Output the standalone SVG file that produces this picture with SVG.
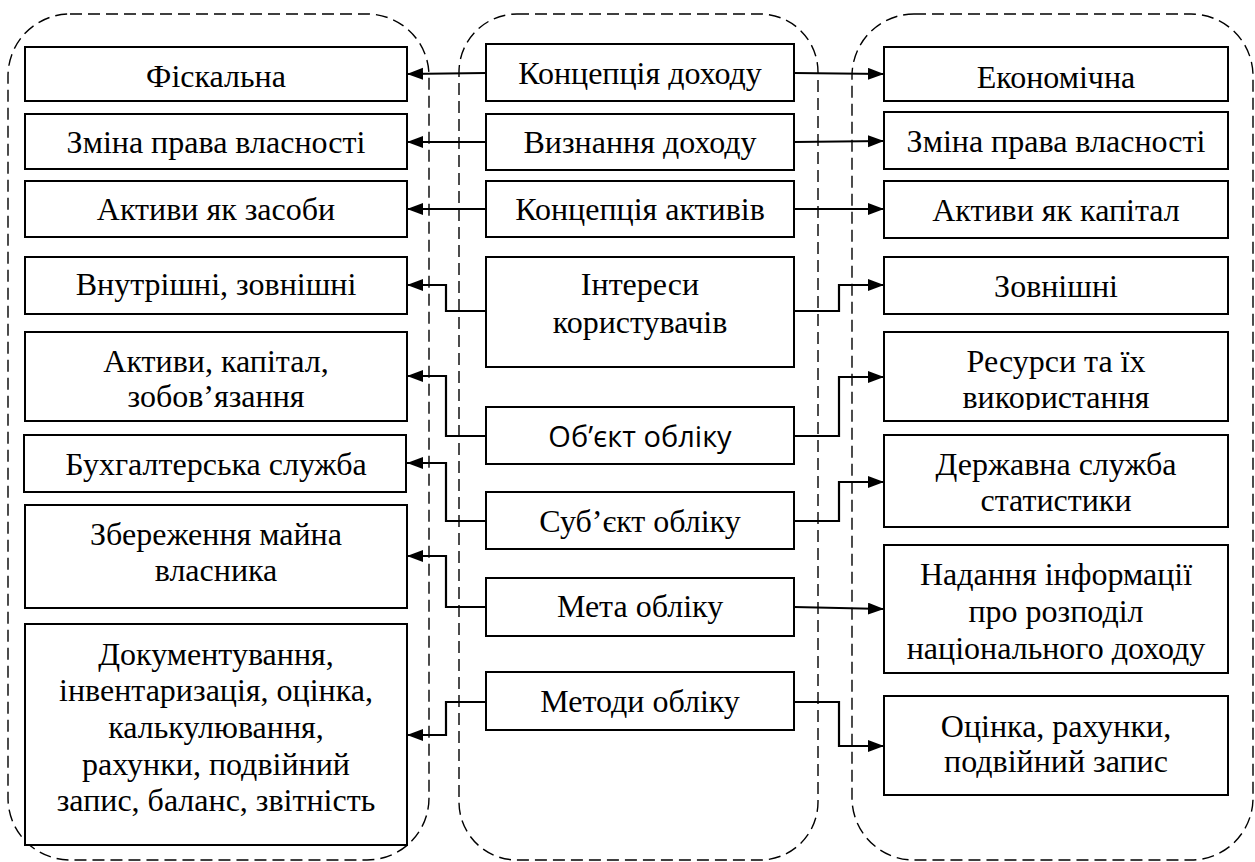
<svg xmlns="http://www.w3.org/2000/svg" width="1255" height="862" viewBox="0 0 1255 862">
  <style>
    .zone { fill: none; stroke: #000; stroke-width: 1.4; stroke-dasharray: 12 6; }
    .box { fill: #fff; stroke: #000; stroke-width: 2; }
    .t { font-family: "Liberation Serif", "DejaVu Serif", serif; font-size: 32px; fill: #000; text-anchor: middle; }
    .ts { font-family: "Open Sans", "Liberation Sans", sans-serif; font-size: 29px; fill: #000; text-anchor: middle; }
    .link { fill: none; stroke: #000; stroke-width: 2.2; marker-end: url(#arrow); }
  </style>
  <defs>
    <marker id="arrow" markerUnits="userSpaceOnUse" markerWidth="17" markerHeight="13" refX="16" refY="6" orient="auto">
      <path d="M0,0 L16,6 L0,12 z" fill="#000"/>
    </marker>
    <clipPath id="clipRes">
      <rect x="884" y="332" width="344" height="78"/>
    </clipPath>
  </defs>

  <!-- dashed column frames -->
  <g id="zones">
    <rect class="zone" x="8" y="14" width="421" height="846" rx="62" ry="62"/>
    <rect class="zone" x="459" y="14" width="359" height="846" rx="58" ry="58"/>
    <rect class="zone" x="852" y="14" width="401" height="846" rx="62" ry="62"/>
  </g>

  <!-- connectors -->
  <g id="connectors">
    <path class="link" d="M486,73 L407,74"/>
    <path class="link" d="M486,142 L407,142"/>
    <path class="link" d="M486,209 L407,209"/>
    <path class="link" d="M486,311 L446,311 L446,285 L407,285"/>
    <path class="link" d="M486,436 L446,436 L446,376 L407,376"/>
    <path class="link" d="M486,521 L446,521 L446,463 L407,463"/>
    <path class="link" d="M486,607 L446,607 L446,556 L407,556"/>
    <path class="link" d="M486,702 L446,702 L446,735 L407,735"/>

    <path class="link" d="M794,73 L884,74"/>
    <path class="link" d="M794,142 L884,141"/>
    <path class="link" d="M794,209 L884,209"/>
    <path class="link" d="M794,311 L839,311 L839,285 L884,285"/>
    <path class="link" d="M794,436 L839,436 L839,377 L884,377"/>
    <path class="link" d="M794,521 L839,521 L839,482 L884,482"/>
    <path class="link" d="M794,607 L839,608 L884,609"/>
    <path class="link" d="M794,702 L839,702 L839,746 L884,746"/>
  </g>

  <!-- left column -->
  <g id="fiscal"><rect class="box" x="25" y="47" width="382" height="54"/><text class="t" x="216" y="87">Фіскальна</text></g>
  <g id="own-left"><rect class="box" x="25" y="114" width="382" height="55"/><text class="t" x="216" y="153">Зміна права власності</text></g>
  <g id="assets-means"><rect class="box" x="25" y="181" width="382" height="56"/><text class="t" x="216" y="220">Активи як засоби</text></g>
  <g id="users-left"><rect class="box" x="25" y="257" width="382" height="57"/><text class="t" x="216" y="295">Внутрішні, зовнішні</text></g>
  <g id="objects-left"><rect class="box" x="25" y="332" width="382" height="89"/><text class="t" x="216" y="372">Активи, капітал,</text><text class="t" x="216" y="407">зобов’язання</text></g>
  <g id="subject-left"><rect class="box" x="24" y="435" width="382" height="57"/><text class="t" x="216" y="475">Бухгалтерська служба</text></g>
  <g id="goal-left"><rect class="box" x="25" y="505" width="382" height="103"/><text class="t" x="216" y="545">Збереження майна</text><text class="t" x="216" y="581">власника</text></g>
  <g id="methods-left"><rect class="box" x="25" y="624" width="382" height="221"/>
    <text class="t" x="216" y="665">Документування,</text>
    <text class="t" x="216" y="701">інвентаризація, оцінка,</text>
    <text class="t" x="216" y="738">калькулювання,</text>
    <text class="t" x="216" y="775">рахунки, подвійний</text>
    <text class="t" x="216" y="811">запис, баланс, звітність</text>
  </g>

  <!-- middle column -->
  <g id="income-concept"><rect class="box" x="486" y="44" width="308" height="57"/><text class="t" x="640" y="84">Концепція доходу</text></g>
  <g id="income-recognition"><rect class="box" x="486" y="114" width="308" height="56"/><text class="t" x="640" y="153">Визнання доходу</text></g>
  <g id="assets-concept"><rect class="box" x="486" y="181" width="308" height="56"/><text class="t" x="640" y="220">Концепція активів</text></g>
  <g id="users-interest"><rect class="box" x="486" y="257" width="308" height="110"/><text class="t" x="640" y="295">Інтереси</text><text class="t" x="640" y="333">користувачів</text></g>
  <g id="object"><rect class="box" x="486" y="407" width="308" height="57"/><text class="ts" x="640" y="447">Об’єкт обліку</text></g>
  <g id="subject"><rect class="box" x="486" y="492" width="308" height="57"/><text class="t" x="640" y="532">Суб’єкт обліку</text></g>
  <g id="goal"><rect class="box" x="486" y="578" width="308" height="58"/><text class="t" x="640" y="617">Мета обліку</text></g>
  <g id="methods"><rect class="box" x="486" y="672" width="308" height="58"/><text class="t" x="640" y="712">Методи обліку</text></g>

  <!-- right column -->
  <g id="economic"><rect class="box" x="884" y="47" width="344" height="54"/><text class="t" x="1056" y="88">Економічна</text></g>
  <g id="own-right"><rect class="box" x="884" y="112" width="344" height="57"/><text class="t" x="1056" y="152">Зміна права власності</text></g>
  <g id="assets-capital"><rect class="box" x="884" y="181" width="344" height="57"/><text class="t" x="1056" y="221">Активи як капітал</text></g>
  <g id="users-right"><rect class="box" x="884" y="257" width="344" height="57"/><text class="t" x="1056" y="297">Зовнішні</text></g>
  <g id="objects-right"><rect class="box" x="884" y="332" width="344" height="89"/><text class="t" x="1056" y="372">Ресурси та їх</text><text class="t" x="1056" y="408" clip-path="url(#clipRes)">використання</text></g>
  <g id="subject-right"><rect class="box" x="884" y="435" width="344" height="92"/><text class="t" x="1056" y="475">Державна служба</text><text class="t" x="1056" y="511">статистики</text></g>
  <g id="goal-right"><rect class="box" x="884" y="545" width="344" height="128"/><text class="t" x="1056" y="585">Надання інформації</text><text class="t" x="1056" y="622">про розподіл</text><text class="t" x="1056" y="659">національного доходу</text></g>
  <g id="methods-right"><rect class="box" x="884" y="696" width="344" height="99"/><text class="t" x="1056" y="737">Оцінка, рахунки,</text><text class="t" x="1056" y="772">подвійний запис</text></g>
</svg>
